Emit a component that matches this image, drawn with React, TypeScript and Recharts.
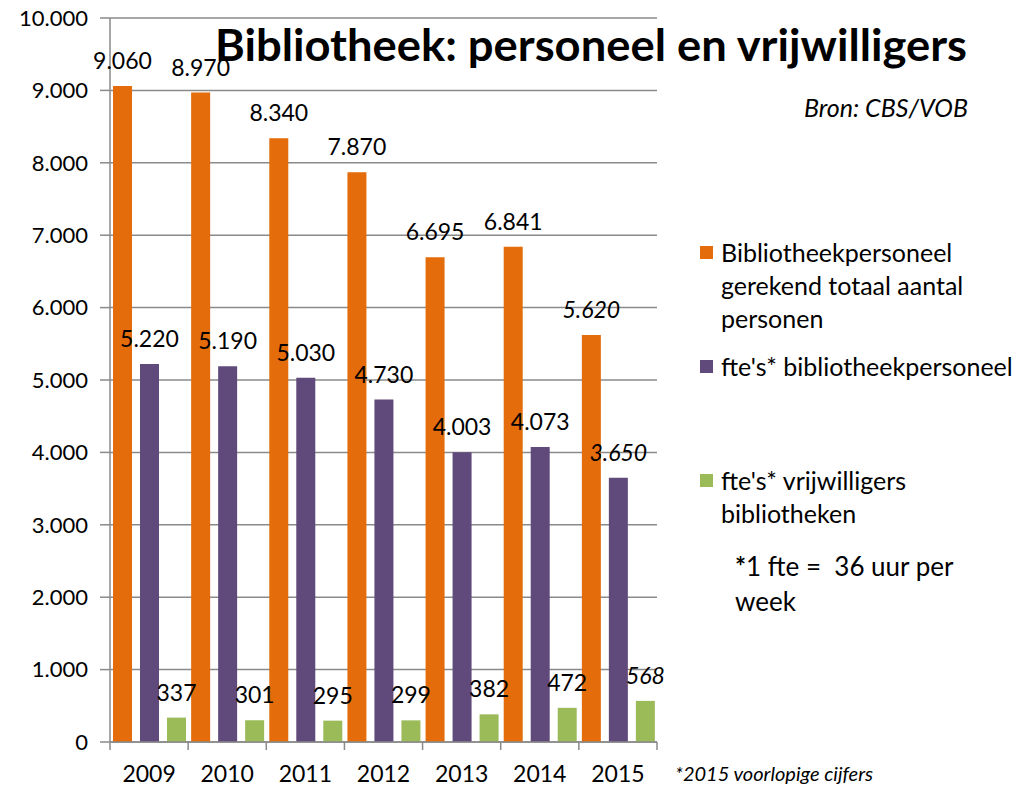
import React from 'react';
import { BarChart, Bar, XAxis, YAxis, CartesianGrid, LabelList } from 'recharts';

const YEARS = ['2009', '2010', '2011', '2012', '2013', '2014', '2015'];
const PERSONEN = [9060, 8970, 8340, 7870, 6695, 6841, 5620];
const FTE_PERSONEEL = [5220, 5190, 5030, 4730, 4003, 4073, 3650];
const FTE_VRIJWILLIGERS = [337, 301, 295, 299, 382, 472, 568];
const Y_TICKS = [0, 1000, 2000, 3000, 4000, 5000, 6000, 7000, 8000, 9000, 10000];
const PROVISIONAL_YEAR = '2015';

const SERIES = [
  { key: 'personen', name: 'Bibliotheekpersoneel\ngerekend totaal aantal\npersonen', color: '#E46C0A' },
  { key: 'ftePersoneel', name: "fte's* bibliotheekpersoneel", color: '#604A7B' },
  { key: 'fteVrijwilligers', name: "fte's* vrijwilligers\nbibliotheken", color: '#9BBB59' },
];

const data = YEARS.map((year, i) => ({
  year,
  personen: PERSONEN[i],
  ftePersoneel: FTE_PERSONEEL[i],
  fteVrijwilligers: FTE_VRIJWILLIGERS[i],
}));

const FONT = 'Lato, "Open Sans", sans-serif';
const GRID = '#8a8a8a';

// dutch thousands separator
const fmt = (v: number) => String(v).replace(/\B(?=(\d{3})+(?!\d))/g, '.');

function ValueLabel(props: any) {
  const { x, y, width, value, index } = props;
  const italic = YEARS[index] === PROVISIONAL_YEAR;
  return (
    <text
      x={x + width / 2}
      y={y - 26}
      textAnchor="middle"
      dominantBaseline="central"
      fontFamily={FONT}
      fontSize={23}
      fontStyle={italic ? 'italic' : 'normal'}
      fill="#000"
    >
      {fmt(value)}
    </text>
  );
}

function YearTick(props: any) {
  const { x, y, payload, index, visibleTicksCount } = props;
  const half = payload.offset ?? 39;
  return (
    <g>
      <line x1={x - half} x2={x - half} y1={y} y2={y + 8} stroke={GRID} strokeWidth={1.5} />
      {index === visibleTicksCount - 1 && (
        <line x1={x + half} x2={x + half} y1={y} y2={y + 8} stroke={GRID} strokeWidth={1.5} />
      )}
      <text x={x} y={y + 40} textAnchor="middle" fontFamily={FONT} fontSize={23} fill="#000">
        {payload.value}
      </text>
    </g>
  );
}

export default function App() {
  return (
    <div style={{ position: 'absolute', left: 0, top: 0, width: 1024, height: 787, background: '#fff', fontFamily: FONT }}>
      <BarChart
        width={1024}
        height={787}
        data={data}
        margin={{ top: 18, right: 367, bottom: 0, left: 0 }}
        barSize={19}
        barGap={8}
      >
        <CartesianGrid vertical={false} stroke={GRID} strokeWidth={1.5} />
        <XAxis
          dataKey="year"
          height={45}
          axisLine={{ stroke: GRID, strokeWidth: 1.5 }}
          tickLine={false}
          tickSize={0}
          tickMargin={0}
          interval={0}
          tick={<YearTick />}
        />
        <YAxis
          width={110}
          domain={[0, 10000]}
          ticks={Y_TICKS}
          interval={0}
          tickFormatter={fmt}
          axisLine={{ stroke: GRID, strokeWidth: 1.5 }}
          tickLine={{ stroke: GRID, strokeWidth: 1.5 }}
          tickSize={10}
          tickMargin={12}
          tick={{ fontFamily: FONT, fontSize: 22, fill: '#000' }}
        />
        {SERIES.map(s => (
          <Bar key={s.key} dataKey={s.key} fill={s.color} isAnimationActive={false}>
            <LabelList dataKey={s.key} content={<ValueLabel />} />
          </Bar>
        ))}
      </BarChart>

      <svg width={1024} height={130} style={{ position: 'absolute', left: 0, top: 0, pointerEvents: 'none' }}>
        <text
          x={215}
          y={61}
          fontFamily={FONT}
          fontWeight={700}
          fontSize={44}
          textLength={752}
          lengthAdjust="spacingAndGlyphs"
          fill="#000"
        >
          Bibliotheek: personeel en vrijwilligers
        </text>
        <text x={968} y={117} textAnchor="end" fontFamily={FONT} fontStyle="italic" fontSize={25} fill="#000">
          Bron: CBS/VOB
        </text>
      </svg>

      {/* legend */}
      <div style={{ position: 'absolute', left: 700, top: 236, width: 324, fontSize: 25, lineHeight: '33px', color: '#000' }}>
        {SERIES.map((s, i) => (
          <div
            key={s.key}
            style={{ display: 'flex', alignItems: 'flex-start', marginTop: i === 0 ? 0 : i === 1 ? 15 : 81 }}
          >
            <span style={{ display: 'inline-block', width: 13, height: 13, background: s.color, marginTop: 10, marginRight: 8, flex: 'none' }} />
            <span style={{ whiteSpace: 'pre-line' }}>{s.name}</span>
          </div>
        ))}
      </div>

      <div style={{ position: 'absolute', left: 735, top: 549, fontSize: 26, lineHeight: '35px', color: '#000' }}>
        <span style={{ fontWeight: 700 }}>*</span>1 fte =&nbsp; 36 uur per
        <br />
        week
      </div>

      <div style={{ position: 'absolute', left: 675, top: 762, fontSize: 20, lineHeight: '22px', fontStyle: 'italic', color: '#000' }}>
        *2015 voorlopige cijfers
      </div>
    </div>
  );
}
